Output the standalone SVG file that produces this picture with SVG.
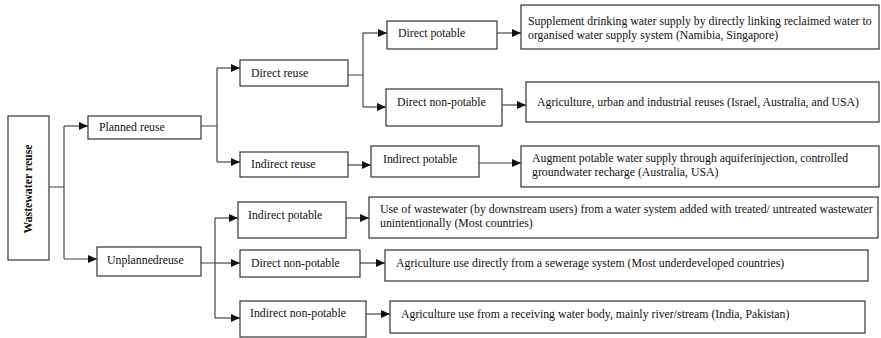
<svg xmlns="http://www.w3.org/2000/svg" width="881" height="338" viewBox="0 0 881 338">
<defs>
<marker id="ah" markerWidth="9" markerHeight="8" refX="9" refY="4" orient="auto" markerUnits="userSpaceOnUse">
<path d="M0,0 L9,4 L0,8 Z" fill="#111"/>
</marker>
<style>
.b{fill:#fff;stroke:#333;stroke-width:1.2}
.t{font-family:"Liberation Serif","Times New Roman",serif;font-size:11.8px;fill:#111}
.c{fill:none;stroke:#444;stroke-width:1.2}
.a{fill:none;stroke:#444;stroke-width:1.2;marker-end:url(#ah)}
</style>
</defs>
<rect width="881" height="338" fill="#fff"/>
<g id="connectors">
<path class="c" d="M49,187 H64 M64,126 V259"/>
<path class="a" d="M64,126 H88"/>
<path class="a" d="M64,259 H97"/>
<path class="c" d="M201,126 H217 M217,68 V162"/>
<path class="a" d="M217,68 H240"/>
<path class="a" d="M217,162 H240"/>
<path class="c" d="M348,75 H363 M363,33 V107"/>
<path class="a" d="M363,33 H387"/>
<path class="a" d="M363,107 H386"/>
<path class="a" d="M497,33 H521"/>
<path class="a" d="M502,105 H526"/>
<path class="a" d="M348,165 H371"/>
<path class="a" d="M479,163 H521"/>
<path class="c" d="M201,263 H215 M215,218 V318"/>
<path class="a" d="M215,218 H238"/>
<path class="a" d="M215,263 H240"/>
<path class="a" d="M215,318 H240"/>
<path class="a" d="M346,218 H369"/>
<path class="a" d="M360,263 H385"/>
<path class="a" d="M366,314 H390"/>
</g>
<g id="wastewater-reuse">
<rect class="b" x="8" y="116" width="41" height="144"/>
<text class="t" font-weight="bold" text-anchor="middle" transform="translate(32,189) rotate(-90)">Wastewater reuse</text>
</g>
<g id="planned-reuse">
<rect class="b" x="88" y="116" width="113" height="23"/>
<text class="t" x="99" y="131">Planned reuse</text>
</g>
<g id="unplanned-reuse">
<rect class="b" x="97" y="247" width="104" height="29"/>
<text class="t" x="107" y="264">Unplannedreuse</text>
</g>
<g id="direct-reuse">
<rect class="b" x="240" y="60" width="108" height="26"/>
<text class="t" x="251" y="77">Direct reuse</text>
</g>
<g id="indirect-reuse">
<rect class="b" x="240" y="152" width="108" height="25"/>
<text class="t" x="251" y="168">Indirect reuse</text>
</g>
<g id="direct-potable">
<rect class="b" x="387" y="21" width="110" height="28"/>
<text class="t" x="398" y="37">Direct potable</text>
</g>
<g id="direct-non-potable">
<rect class="b" x="386" y="89" width="116" height="37"/>
<text class="t" x="397" y="106">Direct non-potable</text>
</g>
<g id="indirect-potable-planned">
<rect class="b" x="371" y="146" width="108" height="31"/>
<text class="t" x="383" y="163">Indirect potable</text>
</g>
<g id="supplement">
<rect class="b" x="521" y="5" width="358" height="44"/>
<text class="t" x="528" y="25">Supplement drinking water supply by directly linking reclaimed water to</text>
<text class="t" x="528" y="39">organised water supply system (Namibia, Singapore)</text>
</g>
<g id="agriculture-urban">
<rect class="b" x="526" y="82" width="353" height="40"/>
<text class="t" x="537" y="106">Agriculture, urban and industrial reuses (Israel, Australia, and USA)</text>
</g>
<g id="augment">
<rect class="b" x="521" y="146" width="358" height="41"/>
<text class="t" x="532" y="162">Augment potable water supply through aquiferinjection, controlled</text>
<text class="t" x="532" y="176">groundwater recharge (Australia, USA)</text>
</g>
<g id="indirect-potable-unplanned">
<rect class="b" x="238" y="202" width="108" height="36"/>
<text class="t" x="248" y="219">Indirect potable</text>
</g>
<g id="direct-non-potable-unplanned">
<rect class="b" x="240" y="250" width="120" height="27"/>
<text class="t" x="251" y="267">Direct non-potable</text>
</g>
<g id="indirect-non-potable">
<rect class="b" x="240" y="301" width="126" height="36"/>
<text class="t" x="250" y="317">Indirect non-potable</text>
</g>
<g id="use-of-wastewater">
<rect class="b" x="369" y="197" width="509" height="41"/>
<text class="t" x="380" y="213">Use of wastewater (by downstream users) from a water system added with treated/ untreated wastewater</text>
<text class="t" x="380" y="227">unintentionally (Most countries)</text>
</g>
<g id="agriculture-sewerage">
<rect class="b" x="385" y="250" width="483" height="31"/>
<text class="t" x="396" y="267">Agriculture use directly from a sewerage system (Most underdeveloped countries)</text>
</g>
<g id="agriculture-receiving">
<rect class="b" x="390" y="301" width="475" height="32"/>
<text class="t" x="401" y="318">Agriculture use from a receiving water body, mainly river/stream (India, Pakistan)</text>
</g>
</svg>
